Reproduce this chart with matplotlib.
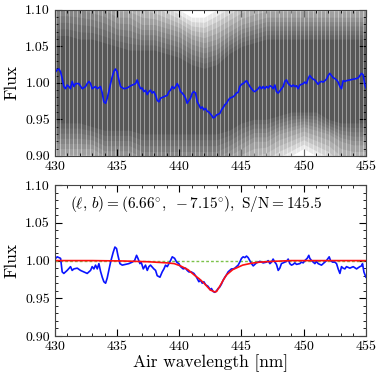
import numpy as np
import matplotlib
matplotlib.use("Agg")
import matplotlib.pyplot as plt
from matplotlib.ticker import MultipleLocator, FormatStrFormatter

plt.rcParams["font.family"] = "cmr10"
plt.rcParams["mathtext.fontset"] = "cm"
plt.rcParams["axes.formatter.use_mathtext"] = True

# --- top panel: mean of individual spectra (blue) ---
wl_top = [430.05, 430.19, 430.32, 430.46, 430.59, 430.72, 430.86, 430.99, 431.13, 431.26,
          431.39, 431.53, 431.66, 431.93, 432.20, 432.47, 432.60, 432.74, 432.87, 433.00,
          433.27, 433.41, 433.67, 433.81, 433.94, 434.08, 434.21, 434.34, 434.48, 434.61,
          434.75, 434.88, 435.01, 435.15, 435.28, 435.55, 435.82, 436.09, 436.35, 436.49,
          436.62, 436.76, 436.89, 437.02, 437.16, 437.29, 437.43, 437.56, 437.69, 437.83,
          437.96, 438.10, 438.23, 438.37, 438.50, 438.77, 439.04, 439.17, 439.30, 439.44,
          439.57, 439.71, 439.84, 439.97, 440.11, 440.24, 440.38, 440.51, 440.64, 440.78,
          440.91, 441.05, 441.18, 441.31, 441.45, 441.58, 441.72, 441.85, 441.98, 442.12,
          442.25, 442.39, 442.52, 442.59, 442.73, 442.86, 443.00, 443.13, 443.26, 443.40,
          443.53, 443.67, 443.80, 443.93, 444.07, 444.20, 444.34, 444.47, 444.60, 444.74,
          444.87, 445.01, 445.14, 445.28, 445.41, 445.54, 445.68, 445.81, 445.95, 446.08,
          446.21, 446.35, 446.48, 446.62, 446.75, 446.88, 447.02, 447.15, 447.29, 447.42,
          447.55, 447.69, 447.82, 447.96, 448.09, 448.22, 448.36, 448.49, 448.63, 448.76,
          448.89, 449.03, 449.16, 449.30, 449.43, 449.56, 449.70, 449.83, 449.97, 450.10,
          450.23, 450.37, 450.50, 450.64, 450.77, 450.91, 451.04, 451.17, 451.31, 451.44,
          451.58, 451.71, 451.84, 451.98, 452.11, 452.25, 452.38, 452.51, 452.65, 452.78,
          452.92, 453.05, 453.18, 453.32, 453.45, 453.72, 453.99, 454.26, 454.40, 454.53,
          454.66, 454.79, 454.93, 455.06]
flux_top = [1.015, 1.018, 1.019, 1.015, 1.006, 0.995, 0.992, 0.997, 0.995, 0.992,
            1.002, 0.995, 0.999, 0.999, 0.992, 0.995, 0.999, 1.002, 0.999, 0.992,
            0.995, 0.992, 0.995, 0.986, 0.974, 0.972, 0.979, 0.988, 0.999, 1.008,
            1.016, 1.019, 1.015, 1.004, 0.995, 0.992, 0.993, 0.996, 0.998, 0.999,
            1.004, 0.997, 0.992, 0.993, 0.988, 0.990, 0.984, 0.988, 0.990, 0.986,
            0.988, 0.983, 0.976, 0.974, 0.979, 0.981, 0.983, 0.988, 0.990, 0.995,
            0.992, 0.995, 0.999, 0.995, 0.988, 0.986, 0.983, 0.979, 0.972, 0.976,
            0.979, 0.986, 0.988, 0.986, 0.974, 0.970, 0.965, 0.967, 0.963, 0.965,
            0.961, 0.960, 0.957, 0.956, 0.952, 0.953, 0.956, 0.957, 0.958, 0.963,
            0.966, 0.970, 0.972, 0.976, 0.979, 0.980, 0.981, 0.983, 0.986, 0.987,
            0.995, 0.998, 0.999, 1.001, 1.003, 0.999, 0.995, 0.992, 0.989, 0.988,
            0.990, 0.992, 0.995, 0.992, 0.995, 0.992, 0.995, 0.993, 0.996, 0.995,
            0.992, 0.997, 0.988, 0.986, 0.989, 0.992, 0.995, 1.002, 1.004, 0.999,
            0.997, 0.995, 0.997, 0.995, 0.996, 0.992, 0.997, 0.998, 0.999, 1.001,
            0.999, 1.006, 1.010, 1.007, 1.005, 1.004, 1.001, 0.998, 1.001, 1.002,
            1.001, 1.003, 1.005, 1.010, 1.013, 1.010, 1.007, 1.006, 1.004, 1.001,
            0.995, 0.992, 1.003, 1.002, 1.003, 1.004, 1.005, 1.006, 1.007, 1.010,
            1.013, 1.011, 0.997, 0.992]

# --- top panel: grey cloud of individual spectra, envelopes read per nm ---
wl_env = [430, 431, 432, 433, 434, 435, 436, 437, 438, 439, 440, 441, 442,
          443, 444, 445, 446, 447, 448, 449, 450, 451, 452, 453, 454, 455]
outer_lo = [0.87, 0.87, 0.87, 0.87, 0.87, 0.87, 0.87, 0.87, 0.87, 0.87, 0.87, 0.87, 0.87,
            0.87, 0.87, 0.87, 0.87, 0.88, 0.89, 0.90, 0.91, 0.90, 0.89, 0.87, 0.87, 0.87]
outer_hi = [1.14, 1.14, 1.14, 1.14, 1.13, 1.13, 1.13, 1.13, 1.12, 1.11, 1.10, 1.09, 1.09,
            1.10, 1.11, 1.12, 1.13, 1.13, 1.13, 1.13, 1.13, 1.13, 1.13, 1.13, 1.13, 1.13]
mid_lo = [0.91, 0.91, 0.91, 0.91, 0.90, 0.90, 0.90, 0.89, 0.89, 0.89, 0.89, 0.89, 0.89,
          0.89, 0.90, 0.91, 0.92, 0.92, 0.93, 0.935, 0.94, 0.935, 0.93, 0.92, 0.915, 0.915]
mid_hi = [1.11, 1.11, 1.11, 1.105, 1.10, 1.09, 1.09, 1.08, 1.08, 1.075, 1.07, 1.06, 1.055,
          1.06, 1.07, 1.08, 1.085, 1.09, 1.09, 1.09, 1.09, 1.09, 1.09, 1.09, 1.09, 1.09]
core_lo = [0.945, 0.945, 0.945, 0.94, 0.935, 0.935, 0.935, 0.93, 0.93, 0.93, 0.93, 0.93, 0.93,
           0.93, 0.935, 0.945, 0.95, 0.95, 0.955, 0.96, 0.96, 0.96, 0.95, 0.945, 0.945, 0.945]
core_hi = [1.065, 1.065, 1.06, 1.06, 1.055, 1.05, 1.045, 1.045, 1.045, 1.04, 1.035, 1.025, 1.02,
           1.025, 1.04, 1.05, 1.055, 1.06, 1.06, 1.06, 1.06, 1.06, 1.06, 1.06, 1.06, 1.06]

# --- bottom panel: normalised stacked spectrum (blue) ---
wl_bot = [430.00, 430.19, 430.46, 430.59, 430.72, 430.99, 431.26, 431.39, 431.53, 431.80,
          432.06, 432.33, 432.60, 432.87, 433.00, 433.14, 433.27, 433.41, 433.54, 433.67,
          433.81, 433.94, 434.08, 434.21, 434.34, 434.48, 434.69, 434.83, 434.96, 435.07,
          435.23, 435.42, 435.68, 435.95, 436.22, 436.41, 436.57, 436.68, 436.84, 436.94,
          437.11, 437.29, 437.43, 437.56, 437.69, 437.96, 438.10, 438.23, 438.45, 438.63,
          438.77, 438.90, 439.04, 439.17, 439.30, 439.44, 439.63, 439.79, 439.97, 440.11,
          440.32, 440.51, 440.64, 440.78, 440.97, 441.18, 441.39, 441.58, 441.72, 441.85,
          441.98, 442.12, 442.31, 442.52, 442.59, 442.73, 442.86, 443.00, 443.13, 443.26,
          443.40, 443.53, 443.67, 443.80, 443.93, 444.07, 444.20, 444.34, 444.47, 444.60,
          444.74, 444.87, 445.01, 445.14, 445.28, 445.41, 445.54, 445.68, 445.81, 445.95,
          446.08, 446.21, 446.48, 446.75, 447.02, 447.15, 447.29, 447.42, 447.55, 447.69,
          447.82, 447.96, 448.09, 448.22, 448.36, 448.49, 448.63, 448.76, 448.89, 449.03,
          449.16, 449.30, 449.43, 449.70, 449.83, 449.97, 450.10, 450.29, 450.42, 450.50,
          450.64, 450.77, 450.91, 451.04, 451.17, 451.31, 451.44, 451.58, 451.71, 451.84,
          452.06, 452.17, 452.33, 452.51, 452.65, 452.78, 452.92, 453.05, 453.18, 453.32,
          453.45, 453.72, 453.99, 454.26, 454.52, 454.66, 454.74, 454.85, 455.01]
flux_bot = [1.002, 1.005, 1.003, 0.985, 0.983, 0.987, 0.992, 0.987, 0.989, 0.990,
            0.987, 0.985, 0.983, 0.987, 0.992, 0.989, 0.994, 0.989, 0.996, 0.986,
            0.978, 0.972, 0.970, 0.977, 0.987, 0.998, 1.011, 1.018, 1.016, 1.007,
            0.996, 0.994, 0.995, 0.996, 0.998, 1.000, 1.007, 1.003, 0.996, 0.998,
            0.989, 0.994, 0.987, 0.992, 0.994, 0.989, 0.987, 0.980, 0.978, 0.985,
            0.989, 0.994, 0.992, 0.996, 1.000, 1.005, 1.003, 0.998, 0.996, 0.992,
            0.989, 0.990, 0.987, 0.985, 0.985, 0.983, 0.978, 0.972, 0.974, 0.970,
            0.972, 0.968, 0.966, 0.961, 0.963, 0.959, 0.958, 0.960, 0.963, 0.965,
            0.969, 0.974, 0.978, 0.981, 0.985, 0.987, 0.989, 0.989, 0.990, 0.992,
            0.994, 0.998, 1.003, 1.005, 1.004, 1.006, 1.004, 1.000, 0.996, 0.993,
            0.995, 0.997, 0.999, 0.997, 0.998, 1.000, 0.996, 0.998, 1.002, 0.998,
            0.995, 0.987, 0.990, 0.996, 0.997, 0.998, 0.999, 1.002, 0.996, 0.994,
            0.995, 0.997, 0.995, 0.996, 0.998, 0.997, 1.000, 1.003, 1.007, 1.003,
            1.000, 0.998, 0.996, 0.999, 0.996, 0.995, 0.994, 0.996, 0.998, 1.000,
            1.005, 1.000, 0.998, 0.998, 0.996, 0.989, 0.983, 0.992, 0.990, 0.989,
            0.992, 0.990, 0.992, 0.989, 0.992, 0.993, 0.996, 0.985, 0.978]

# --- bottom panel: DIB fit (red) ---
wl_fit = [430.0, 433.0, 435.5, 437.5, 439.0, 439.6, 440.1, 440.7, 441.2, 441.6, 442.0,
          442.5, 442.86, 443.0, 443.26, 443.5, 443.8, 444.3, 444.7, 445.1, 445.8,
          446.5, 447.5, 449.0, 455.0]
flux_fit = [1.000, 1.000, 0.9995, 0.9985, 0.997, 0.996, 0.993, 0.988, 0.981, 0.976, 0.970,
            0.961, 0.9585, 0.959, 0.966, 0.973, 0.981, 0.988, 0.991, 0.994, 0.9965,
            0.998, 0.999, 1.000, 1.000]

label_text = r"$(\ell,\,b)=(6.66^{\circ},\ -7.15^{\circ}),\ \mathrm{S/N}=145.5$"


def style_axes(ax):
    ax.set_xlim(430, 455)
    ax.set_ylim(0.90, 1.10)
    ax.xaxis.set_major_locator(MultipleLocator(5))
    ax.xaxis.set_minor_locator(MultipleLocator(1))
    ax.yaxis.set_major_locator(MultipleLocator(0.05))
    ax.yaxis.set_minor_locator(MultipleLocator(0.01))
    ax.yaxis.set_major_formatter(FormatStrFormatter("%.2f"))
    ax.xaxis.set_major_formatter(FormatStrFormatter("%d"))
    ax.tick_params(which="both", direction="in", top=True, right=True, labelsize=10)
    ax.tick_params(which="major", length=5, width=0.8)
    ax.tick_params(which="minor", length=2.5, width=0.6)
    ax.set_ylabel("Flux", fontsize=12.5)
    for s in ax.spines.values():
        s.set_color("#444444")
        s.set_zorder(5)


fig = plt.figure(figsize=(3.81, 3.81), dpi=100)
ax1 = fig.add_axes([0.144, 0.591, 0.816, 0.383])
ax2 = fig.add_axes([0.144, 0.118, 0.816, 0.396])

# grey cloud: soft gradient from the outer envelope in to the dense core
env = [(np.array(outer_lo), np.array(outer_hi)),
       (np.array(mid_lo), np.array(mid_hi)),
       (np.array(core_lo), np.array(core_hi))]
for (lo_a, hi_a), (lo_b, hi_b) in zip(env[:-1], env[1:]):
    for t in np.linspace(0, 1, 6)[:-1]:
        ax1.fill_between(wl_env, lo_a + t * (lo_b - lo_a), hi_a + t * (hi_b - hi_a),
                         color="k", alpha=0.085, lw=0)
ax1.fill_between(wl_env, core_lo, core_hi, color="k", alpha=0.12, lw=0)
# thin light gaps between the rendered pixel columns
for xg in np.arange(430.1, 455.0, 0.338):
    ax1.axvline(xg, color="white", lw=0.5, alpha=0.6)
ax1.plot(wl_top, flux_top, color="#0a14ff", lw=1.2)
style_axes(ax1)

ax2.plot([430, 455], [1.0, 1.0], color="#7cc24a", lw=1.0, ls=(0, (2.0, 1.5)))
ax2.plot(wl_bot, flux_bot, color="#0a14ff", lw=1.2)
ax2.plot(wl_fit, flux_fit, color="#ff1010", lw=1.2)
ax2.text(0.453, 0.874, label_text, transform=ax2.transAxes, ha="center", va="center",
         fontsize=11)
style_axes(ax2)
ax2.set_xlabel("Air wavelength [nm]", fontsize=12.5, labelpad=1)

fig.savefig("out.png", dpi=100)
